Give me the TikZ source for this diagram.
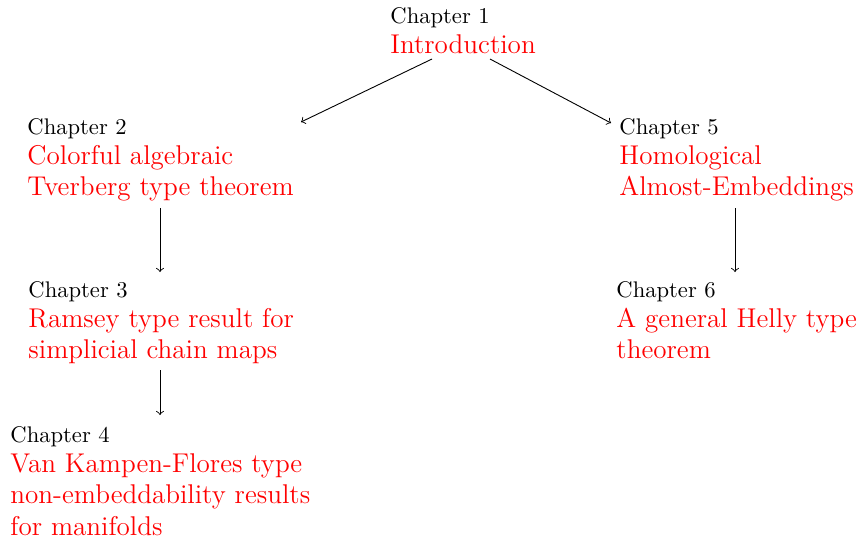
\documentclass[tikz,border=0pt]{standalone}
\begin{document}
\newcommand{\rt}[1]{{\color{red}#1}}
\newcommand{\ch}[1]{{\normalsize #1}\\[-0.8pt]}
\begin{tikzpicture}[x=0.4425pt,y=-0.4425pt,
  chap/.style={anchor=north west, inner sep=0pt, align=left, font={\fontsize{12}{14}\selectfont}},
  conn/.style={->, thin}]
\useasboundingbox (0,0) rectangle (857,535);
\node[chap] (ch1) at (390,7) {\ch{Chapter 1}\rt{Introduction}};
\node[chap] (ch2) at (27,118) {\ch{Chapter 2}\rt{Colorful algebraic}\\\rt{Tverberg type theorem}};
\node[chap] (ch3) at (28,281) {\ch{Chapter 3}\rt{Ramsey type result for}\\\rt{simplicial chain maps}};
\node[chap] (ch4) at (10,426) {\ch{Chapter 4}\rt{Van Kampen-Flores type}\\\rt{non-embeddability results}\\\rt{for manifolds}};
\node[chap] (ch5) at (619,118) {\ch{Chapter 5}\rt{Homological}\\\rt{Almost-Embeddings}};
\node[chap] (ch6) at (616,281) {\ch{Chapter 6}\rt{A general Helly type}\\\rt{theorem}};
\coordinate (a1) at (432,59);
\coordinate (a2) at (490,59);
\coordinate (e2) at (301,122);
\coordinate (e5) at (611,123);
\coordinate (s2) at (160,208);
\coordinate (t3) at (160,272);
\coordinate (s3) at (160,370);
\coordinate (t4) at (160,415);
\coordinate (s5) at (735,208);
\coordinate (t6) at (735,272);
\draw[conn] (a1) -- (e2);
\draw[conn] (a2) -- (e5);
\draw[conn] (s2) -- (t3);
\draw[conn] (s3) -- (t4);
\draw[conn] (s5) -- (t6);
\end{tikzpicture}
\end{document}
